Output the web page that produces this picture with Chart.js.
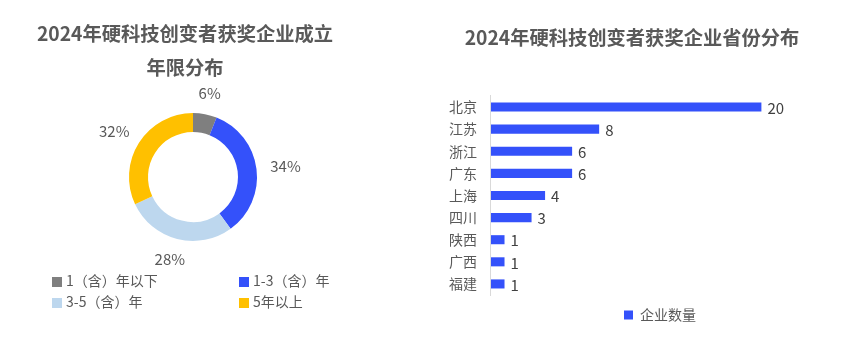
<!DOCTYPE html>
<html>
<head>
<meta charset="utf-8">
<script src="https://cdn.jsdelivr.net/npm/chart.js@4"></script>
<style>
  html, body { margin: 0; padding: 0; background: #fff; }
  body { width: 841px; height: 347px; position: relative; overflow: hidden;
         font-family: "Noto Sans CJK SC", sans-serif; }
  .box { position: absolute; top: 0; height: 347px; }
  #leftBox { left: 0; width: 370px; }
  #rightBox { left: 430px; width: 411px; }
  #ageTitle { position: absolute; left: 0; top: 16px; width: 370px; text-align: center;
              font-size: 19.3px; font-weight: bold; color: #595959; line-height: 34px; }
  #ageLegend { position: absolute; left: 52px; top: 270px; width: 300px; }
  .lg { position: absolute; font-size: 14px; color: #595959; line-height: 20px; white-space: nowrap; }
  .lg i { display: inline-block; width: 10px; height: 10px; margin-right: 4px; vertical-align: -0.5px; }
</style>
</head>
<body>
<div class="box" id="leftBox"><canvas id="ageChart"></canvas></div>
<div id="ageTitle">2024年硬科技创变者获奖企业成立<br>年限分布</div>
<div class="box" id="rightBox"><canvas id="provChart"></canvas></div>
<div id="ageLegend"></div>

<script>
/* data */
const ageLabels = ['1（含）年以下', '1-3（含）年', '3-5（含）年', '5年以上'];
const ageShares = [6, 34, 28, 32];
const ageColors = ['#7f7f7f', '#3451fa', '#bdd7ee', '#ffc000'];

const provinceNames = ['北京', '江苏', '浙江', '广东', '上海', '四川', '陕西', '广西', '福建'];
const provinceCounts = [20, 8, 6, 6, 4, 3, 1, 1, 1];
const seriesName = '企业数量';

Chart.defaults.font.family = '"Noto Sans CJK SC", sans-serif';
Chart.defaults.color = '#595959';

/* percent labels outside the ring */
const ringLabels = {
  id: 'ringLabels',
  afterDatasetsDraw(chart) {
    const ctx = chart.ctx;
    const meta = chart.getDatasetMeta(0);
    ctx.save();
    ctx.font = '15px "Noto Sans CJK SC", sans-serif';
    ctx.fillStyle = '#595959';
    ctx.textAlign = 'center';
    ctx.textBaseline = 'middle';
    meta.data.forEach((arc, i) => {
      const p = arc.getProps(['x', 'y', 'startAngle', 'endAngle', 'outerRadius']);
      const mid = (p.startAngle + p.endAngle) / 2;
      const dx = Math.cos(mid), dy = Math.sin(mid);
      const txt = chart.data.datasets[0].data[i] + '%';
      const hw = ctx.measureText(txt).width / 2;
      const r = p.outerRadius + 14;
      ctx.fillText(txt, p.x + dx * (r + hw), p.y + dy * (r + 7));
    });
    ctx.restore();
  }
};

/* value labels at the bar ends */
const barValues = {
  id: 'barValues',
  afterDatasetsDraw(chart) {
    const ctx = chart.ctx;
    const meta = chart.getDatasetMeta(0);
    ctx.save();
    ctx.font = '15px "Noto Sans CJK SC", sans-serif';
    ctx.fillStyle = '#404040';
    ctx.textAlign = 'left';
    ctx.textBaseline = 'middle';
    meta.data.forEach((bar, i) => {
      ctx.fillText(String(chart.data.datasets[0].data[i]), bar.x + 6, bar.y + 1);
    });
    ctx.restore();
  }
};

/* doughnut */
new Chart(document.getElementById('ageChart'), {
  type: 'doughnut',
  data: {
    labels: ageLabels,
    datasets: [{ data: ageShares, backgroundColor: ageColors, borderWidth: 0 }]
  },
  options: {
    responsive: true,
    maintainAspectRatio: false,
    animation: false,
    radius: 64,
    cutout: 45,
    layout: { padding: { left: 16, right: 0, top: 113, bottom: 106 } },
    plugins: {
      legend: { display: false },
      tooltip: { enabled: false }
    }
  },
  plugins: [ringLabels]
});

/* html legend for the doughnut */
const lgBox = document.getElementById('ageLegend');
ageLabels.forEach((name, i) => {
  const d = document.createElement('div');
  d.className = 'lg';
  d.style.left = (i % 2 ? 187 : 0) + 'px';
  d.style.top = (i < 2 ? 0 : 21) + 'px';
  d.innerHTML = '<i style="background:' + ageColors[i] + '"></i>' + name;
  lgBox.appendChild(d);
});

/* horizontal bars */
new Chart(document.getElementById('provChart'), {
  type: 'bar',
  data: {
    labels: provinceNames,
    datasets: [{
      label: seriesName,
      data: provinceCounts,
      backgroundColor: '#3451fa',
      categoryPercentage: 1,
      barPercentage: 0.41
    }]
  },
  options: {
    indexAxis: 'y',
    responsive: true,
    maintainAspectRatio: false,
    animation: false,
    layout: { padding: { left: 5, right: 12, top: 0, bottom: 15 } },
    scales: {
      x: { display: false, min: 0, max: 25 },
      y: {
        grid: { display: false, drawTicks: false },
        border: { display: true, color: '#d9d9d9' },
        ticks: { padding: 14, color: '#595959', font: { size: 14 } }
      }
    },
    plugins: {
      tooltip: { enabled: false },
      title: {
        display: true,
        text: '2024年硬科技创变者获奖企业省份分布',
        color: '#595959',
        font: { size: 19.3, weight: 'bold', lineHeight: 1.2 },
        padding: { top: 26.4, bottom: 46.4 }
      },
      legend: {
        position: 'bottom',
        fullSize: false,
        labels: { boxWidth: 9, boxHeight: 9, padding: 13, color: '#595959', font: { size: 14 } }
      }
    }
  },
  plugins: [barValues]
});
</script>
</body>
</html>
